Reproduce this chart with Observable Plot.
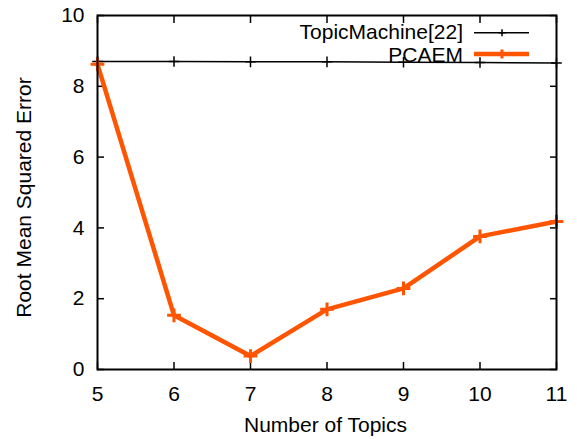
<!DOCTYPE html>
<html>
<head>
<meta charset="utf-8">
<script src="https://cdn.jsdelivr.net/npm/d3@7"></script>
<script src="https://cdn.jsdelivr.net/npm/@observablehq/plot@0.6"></script>
<style>
  html, body { margin: 0; padding: 0; background: #fff; }
  #chart { position: relative; width: 577px; height: 439px; }
  #chart svg text { font-family: 'Liberation Sans', Arial, Helvetica, sans-serif; }
  #chart svg g[aria-label$="tick label"] { font-size: 21px; }
  #legend { position: absolute; left: 0; top: 0; pointer-events: none; }
</style>
</head>
<body>
<div id="chart"></div>
<script>
const topics = [5, 6, 7, 8, 9, 10, 11];
const topicMachine = [8.70, 8.70, 8.69, 8.69, 8.68, 8.67, 8.66];
const pcaem = [8.62, 1.53, 0.38, 1.70, 2.29, 3.76, 4.18];
const xTicks = [5, 6, 7, 8, 9, 10, 11];
const yTicks = [0, 2, 4, 6, 8, 10];
const seriesNames = ["TopicMachine[22]", "PCAEM"];
const seriesColors = ["#000000", "#ff5400"];

const tmData = topics.map((t, i) => ({x: t, y: topicMachine[i]}));
const pcData = topics.map((t, i) => ({x: t, y: pcaem[i]}));

const font = "'Liberation Sans', Arial, Helvetica, sans-serif";
const fs = 21;

const plot = Plot.plot({
  width: 577,
  height: 439,
  marginLeft: 97,
  marginRight: 21,
  marginTop: 15,
  marginBottom: 70,
  style: {fontFamily: font, fontSize: fs + "px", color: "#000", background: "#fff"},
  x: {domain: [5, 11]},
  y: {domain: [0, 10]},
  marks: [
    Plot.axisX({anchor: "bottom", ticks: xTicks, tickSize: 0, tickPadding: 17, label: null, fontSize: fs, tickFormat: d => String(d)}),
    Plot.axisY({anchor: "left", ticks: yTicks, tickSize: 0, tickPadding: 13, label: null, fontSize: fs, tickFormat: d => String(d)}),
    Plot.axisX({anchor: "bottom", ticks: xTicks, tickSize: -7, tickFormat: () => "", label: null, strokeWidth: 1.5}),
    Plot.axisX({anchor: "top", ticks: xTicks, tickSize: -7, tickFormat: () => "", label: null, strokeWidth: 1.5}),
    Plot.axisY({anchor: "left", ticks: yTicks, tickSize: -7, tickFormat: () => "", label: null, strokeWidth: 1.5}),
    Plot.axisY({anchor: "right", ticks: yTicks, tickSize: -7, tickFormat: () => "", label: null, strokeWidth: 1.5}),
    Plot.text(["Number of Topics"], {frameAnchor: "bottom", dy: 56, dx: -1.5, textAnchor: "middle", lineAnchor: "middle", fontSize: fs, fill: "#000"}),
    Plot.text(["Root Mean Squared Error"], {frameAnchor: "left", dx: -73, dy: 5, rotate: -90, textAnchor: "middle", lineAnchor: "middle", fontSize: fs, fill: "#000"}),
    Plot.line(tmData, {x: "x", y: "y", stroke: seriesColors[0], strokeWidth: 1.5}),
    Plot.dot(tmData, {x: "x", y: "y", symbol: "plus", r: 3.5, stroke: seriesColors[0], strokeWidth: 1.5}),
    Plot.line(pcData, {x: "x", y: "y", stroke: seriesColors[1], strokeWidth: 4.5}),
    Plot.dot(pcData, {x: "x", y: "y", symbol: "plus", r: 4.5, stroke: seriesColors[1], strokeWidth: 3}),
    Plot.frame({stroke: "#000", strokeWidth: 2})
  ]
});

const chart = document.getElementById("chart");
chart.appendChild(plot);

// Legend (inside plot, upper right)
const ns = "http://www.w3.org/2000/svg";
const leg = document.createElementNS(ns, "svg");
leg.setAttribute("id", "legend");
leg.setAttribute("width", 577);
leg.setAttribute("height", 439);
const rows = [
  {name: seriesNames[0], color: seriesColors[0], w: 1.5, r: 3.5, sw: 1.5, ty: 31, ly: 32.7},
  {name: seriesNames[1], color: seriesColors[1], w: 4.5, r: 4.5, sw: 3, ty: 54, ly: 54}
];
rows.forEach(row => {
  const t = document.createElementNS(ns, "text");
  t.setAttribute("x", 463);
  t.setAttribute("y", row.ty);
  t.setAttribute("text-anchor", "end");
  t.setAttribute("dominant-baseline", "central");
  t.setAttribute("font-family", font);
  t.setAttribute("font-size", fs);
  t.setAttribute("fill", "#000");
  t.textContent = row.name;
  leg.appendChild(t);
  const l = document.createElementNS(ns, "line");
  l.setAttribute("x1", 474); l.setAttribute("x2", 529);
  l.setAttribute("y1", row.ly); l.setAttribute("y2", row.ly);
  l.setAttribute("stroke", row.color); l.setAttribute("stroke-width", row.w);
  leg.appendChild(l);
  const p = document.createElementNS(ns, "path");
  const cx = 502, r = row.r;
  p.setAttribute("d", `M${cx - r},${row.ly}H${cx + r}M${cx},${row.ly - r}V${row.ly + r}`);
  p.setAttribute("stroke", row.color); p.setAttribute("stroke-width", row.sw);
  leg.appendChild(p);
});
chart.appendChild(leg);
</script>
</body>
</html>
